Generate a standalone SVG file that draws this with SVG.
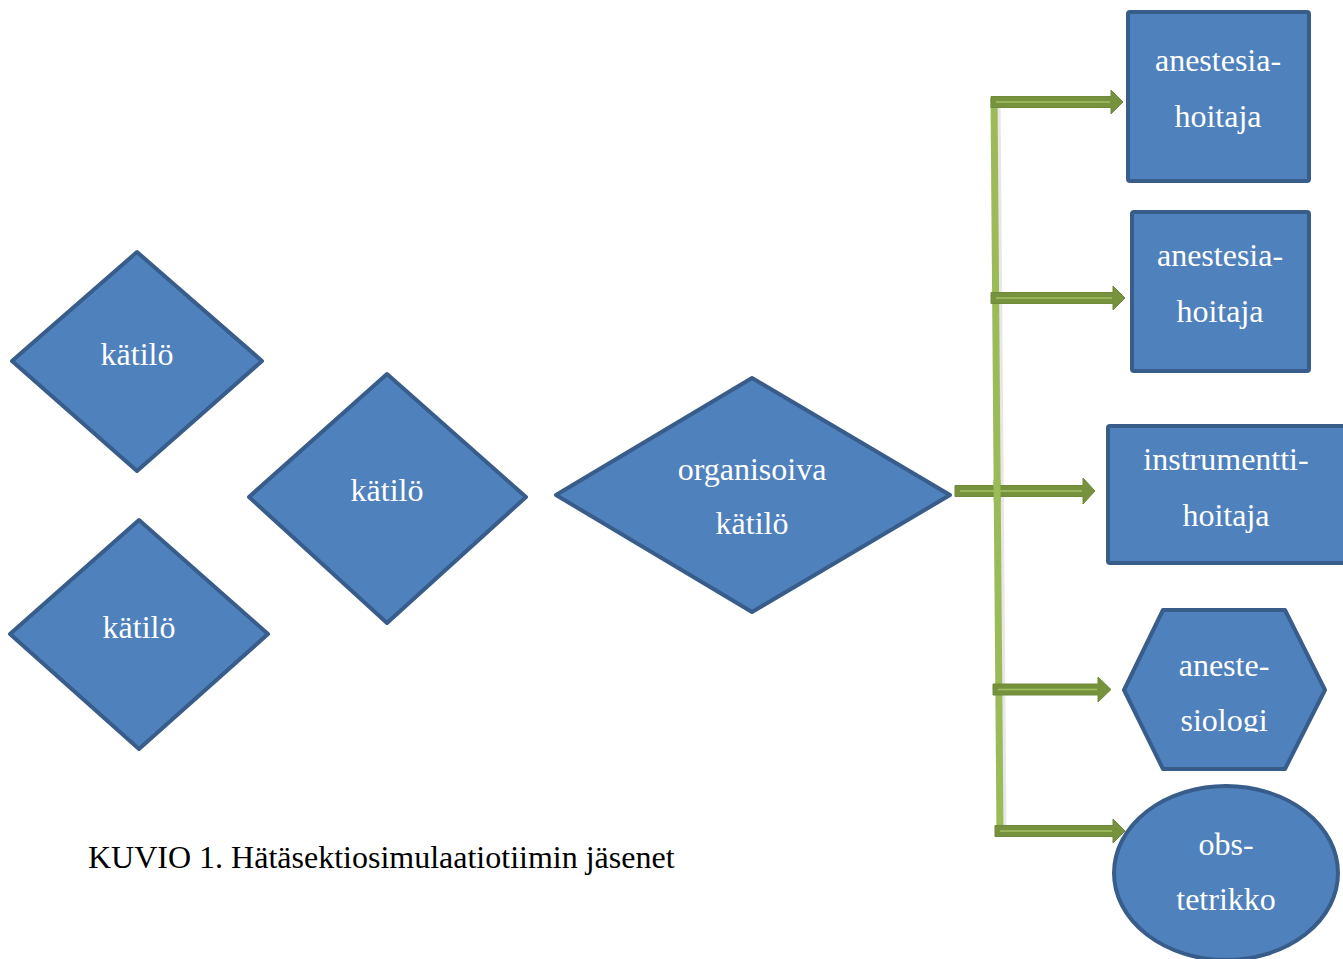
<svg xmlns="http://www.w3.org/2000/svg" width="1343" height="959" viewBox="0 0 1343 959">
<style>
.shape{fill:#4f81bd;stroke:#385d8a;stroke-width:4;stroke-linejoin:round}
.lbl{font-family:"Liberation Serif","Times New Roman",serif;font-size:32px;fill:#ffffff;text-anchor:middle}
.cap{font-family:"Liberation Serif","Times New Roman",serif;font-size:32px;fill:#000000}
.arr{fill:#76923c;stroke:#6f8a3a;stroke-width:1}
.arrline{stroke:#a4c065;stroke-width:1.5}
</style>
<defs>
<clipPath id="hexclip"><rect x="1120" y="600" width="210" height="132"/></clipPath>
</defs>
<rect width="1343" height="959" fill="#ffffff"/>

<g id="connectors">
<line x1="997" y1="98" x2="1003" y2="836" stroke="#d0d0d0" stroke-width="7" opacity="0.5"/>
<line x1="994" y1="98" x2="1000" y2="836" stroke="#9bbb59" stroke-width="7"/>
<g id="arrow1"><polygon class="arr" points="991,96.5 1111,96.5 1111,90 1123,102 1111,114 1111,107.5 991,107.5"/><line class="arrline" x1="996" y1="102" x2="1110" y2="102"/></g>
<g id="arrow2"><polygon class="arr" points="991,292.5 1113,292.5 1113,286 1125,298 1113,310 1113,303.5 991,303.5"/><line class="arrline" x1="996" y1="298" x2="1112" y2="298"/></g>
<g id="arrow4"><polygon class="arr" points="993,684 1098,684 1098,677 1111,689.5 1098,702 1098,695 993,695"/><line class="arrline" x1="998" y1="689.5" x2="1097" y2="689.5"/></g>
<g id="arrow5"><polygon class="arr" points="995,825.5 1113,825.5 1113,819 1125,831 1113,843 1113,836.5 995,836.5"/><line class="arrline" x1="1000" y1="831" x2="1112" y2="831"/></g>
<g id="arrow3"><polygon class="arr" points="955,485.5 1083,485.5 1083,478 1095,491 1083,504 1083,496.5 955,496.5"/><line class="arrline" x1="960" y1="491" x2="1082" y2="491"/></g>
<line x1="996.8" y1="480" x2="997.2" y2="502" stroke="#9bbb59" stroke-width="7"/>
</g>

<g id="katilo1">
<polygon class="shape" points="137,252 262,361 137,471 12,361"/>
<text class="lbl" x="137" y="365">kätilö</text>
</g>
<g id="katilo2">
<polygon class="shape" points="387,374 526,497 387,623 249,497"/>
<text class="lbl" x="387" y="501">kätilö</text>
</g>
<g id="katilo3">
<polygon class="shape" points="139,520 268,634 139,749 10,634"/>
<text class="lbl" x="139" y="638">kätilö</text>
</g>
<g id="organisoiva">
<polygon class="shape" points="752,378 950,495 752,612 556,495"/>
<text class="lbl" x="752" y="480">organisoiva</text>
<text class="lbl" x="752" y="534">kätilö</text>
</g>

<g id="anestesiahoitaja1">
<rect class="shape" x="1128" y="12" width="181" height="169" rx="2"/>
<text class="lbl" x="1218" y="71">anestesia-</text>
<text class="lbl" x="1218" y="127">hoitaja</text>
</g>
<g id="anestesiahoitaja2">
<rect class="shape" x="1132" y="212" width="177" height="159" rx="2"/>
<text class="lbl" x="1220" y="266">anestesia-</text>
<text class="lbl" x="1220" y="322">hoitaja</text>
</g>
<g id="instrumenttihoitaja">
<rect class="shape" x="1108" y="426" width="240" height="137" rx="2"/>
<text class="lbl" x="1226" y="470">instrumentti-</text>
<text class="lbl" x="1226" y="526">hoitaja</text>
</g>
<g id="anestesiologi">
<polygon class="shape" points="1124,690 1163,610 1285,610 1325,690 1285,769 1163,769"/>
<g clip-path="url(#hexclip)">
<text class="lbl" x="1224" y="676">aneste-</text>
<text class="lbl" x="1224" y="731">siologi</text>
</g>
</g>
<g id="obstetrikko">
<ellipse class="shape" cx="1226" cy="873" rx="112" ry="87"/>
<text class="lbl" x="1226" y="855">obs-</text>
<text class="lbl" x="1226" y="910">tetrikko</text>
</g>

<text class="cap" x="88" y="868">KUVIO 1. Hätäsektiosimulaatiotiimin jäsenet</text>
</svg>
